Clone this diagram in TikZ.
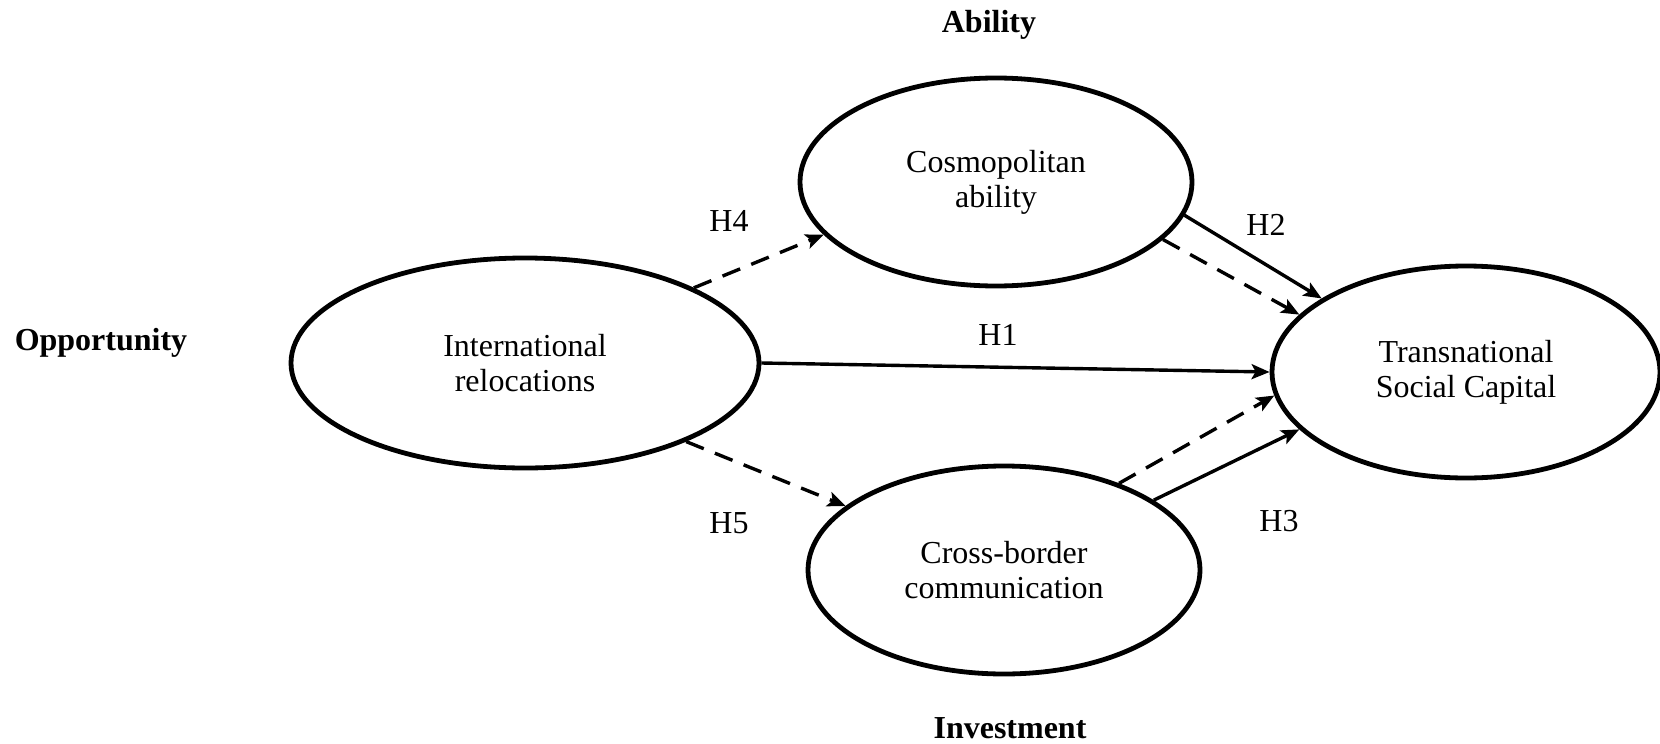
\documentclass[tikz,border=0pt]{standalone}
\usepackage{fontspec}
\setmainfont{Liberation Serif}
\usetikzlibrary{shapes.geometric,arrows.meta}
\begin{document}
\begin{tikzpicture}[x=1pt,y=-1pt,
  construct/.style={ellipse,draw,line width=4.8pt,inner sep=0pt,align=center,
    font=\fontsize{32}{35}\selectfont},
  lbl/.style={font=\fontsize{32}{35}\selectfont,inner sep=0pt},
  blbl/.style={font=\fontsize{32}{35}\selectfont\bfseries,inner sep=0pt},
  solidarrow/.style={line width=3.4pt,-{Stealth[length=18pt,width=15pt,inset=4pt]}},
  dasharrow/.style={solidarrow,dash pattern=on 19pt off 12pt}]
\useasboundingbox (0,0) rectangle (1660,744);
\node[construct,minimum width=468pt,minimum height=210pt] (ir) at (525,363) {International\\relocations};
\node[construct,minimum width=392pt,minimum height=208pt] (ca) at (996,182) {Cosmopolitan\\ability};
\node[construct,minimum width=392pt,minimum height=208pt] (cb) at (1004,570) {Cross-border\\communication};
\node[construct,minimum width=388pt,minimum height=212pt] (tsc) at (1466,372) {Transnational\\Social Capital};
\node[blbl] (ability) at (989,25) {Ability};
\node[blbl] (opp) at (101,343) {Opportunity};
\node[blbl] (inv) at (1010,728) {Investment};
\node[lbl] (h4) at (729,221) {H4};
\node[lbl] (h2) at (1266,225) {H2};
\node[lbl] (h1) at (998,335) {H1};
\node[lbl] (h5) at (729,523) {H5};
\node[lbl] (h3) at (1279,521) {H3};
\draw[dasharrow] (ir.24) -- (ca.197);
\draw[solidarrow] (ca.-10.7) -- (tsc.153);
\draw[dasharrow] (ca.-19.8) -- (tsc.161.7);
\draw[solidarrow] (ir.east) -- (tsc.west);
\draw[dasharrow] (cb.37.8) -- (tsc.187.3);
\draw[solidarrow] (cb.25.3) -- (tsc.199);
\draw[dasharrow] (ir.-26.3) -- (cb.158);
\end{tikzpicture}
\end{document}
